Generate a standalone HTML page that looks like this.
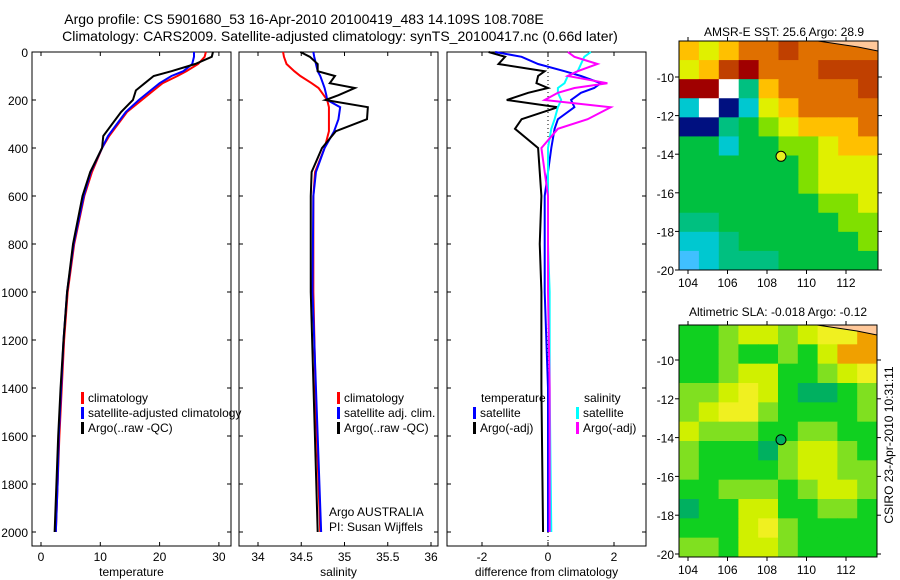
<!DOCTYPE html>
<html><head><meta charset="utf-8"><style>
body{margin:0;background:#fff;}
svg{display:block;font-family:"Liberation Sans",sans-serif;}
</style></head><body>
<svg id="c" width="900" height="580" xmlns="http://www.w3.org/2000/svg">
<text x="304" y="24" font-size="14" text-anchor="middle">Argo profile: CS 5901680_53 16-Apr-2010 20100419_483 14.109S 108.708E</text>
<text x="340" y="41" font-size="14" text-anchor="middle">Climatology: CARS2009. Satellite-adjusted climatology: synTS_20100417.nc (0.66d later)</text>
<g id="p1"></g>
<g id="p2"></g>
<g id="p3"></g>
<g id="m1"></g>
<g id="m2"></g>
<text x="784" y="36" font-size="12" text-anchor="middle">AMSR-E SST: 25.6 Argo: 28.9</text>
<text x="778" y="316" font-size="12" text-anchor="middle">Altimetric SLA: -0.018 Argo: -0.12</text>
<text transform="translate(893,445) rotate(-90)" font-size="12" text-anchor="middle">CSIRO 23-Apr-2010 10:31:11</text>
</svg>
<script>
const depths=[0,20,50,80,100,130,160,200,250,300,350,400,500,600,800,1000,1200,1400,1600,1800,2000];
const tClim=[27.8,27.6,26.5,24.5,23,20.5,19,17,14.5,13,11.5,10.3,8.6,7.3,5.6,4.5,3.9,3.5,3.1,2.8,2.5];
const tSat=[25.8,25.8,25.5,24,22,20,18.5,16.5,14.3,12.8,11.3,10.3,8.4,7.2,5.5,4.4,3.8,3.4,3.0,2.8,2.5];
const tArgo=[29,28.8,26,22,19,17.5,16,15.5,13.5,12,10.5,10.3,8.3,7,5.4,4.4,3.8,3.3,2.9,2.6,2.3];
const sDepths=[0,20,50,80,100,130,150,180,200,230,280,330,400,500,600,1000,1500,2000];
const sClim=[34.29,34.3,34.33,34.42,34.49,34.62,34.7,34.76,34.8,34.82,34.82,34.82,34.77,34.66,34.64,34.64,34.67,34.72];
const sSat=[34.64,34.65,34.67,34.69,34.72,34.75,34.77,34.79,34.8,34.95,34.93,34.88,34.77,34.67,34.64,34.63,34.68,34.73];
const sArgo=[34.49,34.6,34.69,34.69,34.89,34.83,35.12,34.93,34.78,35.27,35.26,34.9,34.74,34.62,34.61,34.61,34.65,34.69];
const dDepths=[0,20,50,80,100,130,150,170,200,230,280,320,400,500,600,800,1000,1400,2000];
const dTArgo=[-1.8,-1.3,-1.5,-0.1,-0.3,-0.35,0,-0.6,-1.25,0.3,-0.8,-1.0,-0.3,-0.25,-0.2,-0.25,-0.2,-0.2,-0.15];
const dTSat=[-1.6,-0.8,-0.3,0.5,1.0,1.6,1.4,1.0,0.7,0.8,0.3,0.2,0.1,0,-0.1,-0.1,-0.1,0,0];
const dSSat=[1.3,1.1,1.0,0.9,0.6,0.5,0.3,0.3,0.4,0.3,0.2,0.1,0.0,0,0,0,0.05,0.05,0.1];
const dSArgo=[0.6,0.8,1.5,0.9,0.6,1.8,0.8,0.3,-0.1,1.9,1.2,0.3,-0.2,-0.1,0,0,0,0.05,0.05];
const depthTicks=[0,200,400,600,800,1000,1200,1400,1600,1800,2000];
const tTicks=[0,10,20,30];
const sTicks=[34,34.5,35,35.5,36];
const dTicks=[-2,0,2];
const sstGrid=[
[7,6,7,8,8,9,8,8,8,8],[6,7,9,10,8,8,8,9,9,9],[10,10,-1,3,7,8,8,8,8,9],[2,-1,1,2,6,7,8,8,8,8],
[1,1,3,4,5,6,7,7,7,8],[4,4,2,4,4,5,5,6,7,7],[4,4,4,4,4,4,5,6,6,6],[4,4,4,4,4,4,5,6,6,6],
[4,4,4,4,4,4,4,5,5,6],[3,3,4,4,4,4,4,4,5,5],[2,2,3,4,4,4,4,4,4,5],[0,2,3,3,3,4,4,4,4,4]];
const slaGrid=[
[4,4,5,6,6,5,6,7,7,8],[4,4,5,4,4,5,4,6,8,8],[4,4,5,6,6,4,4,5,6,7],[5,5,6,7,6,4,3,3,4,5],
[5,6,7,7,5,4,4,4,4,5],[6,5,5,5,4,4,5,5,4,4],[5,4,4,4,3,5,6,6,5,4],[5,4,4,4,4,5,6,6,5,5],
[4,4,5,5,5,4,5,6,6,5],[3,4,4,6,6,4,4,5,5,4],[4,4,4,6,7,5,4,4,4,4],[5,5,4,6,6,5,4,4,4,4]];
const latTicks=[-10,-12,-14,-16,-18,-20];
const lonTicks=[104,106,108,110,112];
const NS='http://www.w3.org/2000/svg';
function mk(p,t,a){const e=document.createElementNS(NS,t);for(const k in a)e.setAttribute(k,a[k]);p.appendChild(e);return e;}
const Y=d=>52+d*0.24;
function panel(g,x0,x1,xs,ticks,label,leftLabels){
  const r=mk(g,'rect',{x:x0,y:52,width:x1-x0,height:494,fill:'none',stroke:'#000'});
  
  depthTicks.forEach(d=>{mk(g,'line',{x1:x0,x2:x0+4,y1:Y(d),y2:Y(d),stroke:'#000'});mk(g,'line',{x1:x1,x2:x1-4,y1:Y(d),y2:Y(d),stroke:'#000'});
    if(leftLabels){const t=mk(g,'text',{x:x0-4,y:Y(d)+5,'font-size':12,'text-anchor':'end'});t.textContent=d;
    }});
  ticks.forEach(v=>{const x=xs(v);mk(g,'line',{x1:x,x2:x,y1:546,y2:542,stroke:'#000'});mk(g,'line',{x1:x,x2:x,y1:52,y2:56,stroke:'#000'});
    const t=mk(g,'text',{x:x,y:561,'font-size':12,'text-anchor':'middle'});t.textContent=v;
    });
  const t=mk(g,'text',{x:(x0+x1)/2,y:576,'font-size':12,'text-anchor':'middle'});t.textContent=label;
  
}
function line(g,ds,vs,xs,col,name,w){
  const p=mk(g,'polyline',{points:ds.map((d,i)=>xs(vs[i])+','+Y(d)).join(' '),fill:'none',stroke:col,'stroke-width':w||2});
  
}
function legend(g,x,y,items){
  items.forEach((it,i)=>{mk(g,'rect',{x:x,y:y+i*15-10,width:3,height:12,fill:it[0]});
    const t=mk(g,'text',{x:x+7,y:y+i*15,'font-size':12});t.textContent=it[1];
    });
}
const p1=document.getElementById('p1'),p2=document.getElementById('p2'),p3=document.getElementById('p3');
const xT=v=>41+5.93*v, xS=v=>258+86.5*(v-34), xD=v=>548+33*v;
panel(p1,32,231,xT,tTicks,'temperature',true);
line(p1,depths,tClim,xT,'#f00','temp-climatology-line');
line(p1,depths,tSat,xT,'#00f','temp-satellite-line');
line(p1,depths,tArgo,xT,'#000','temp-argo-line');
legend(p1,81,402,[['#f00','climatology'],['#00f','satellite-adjusted climatology'],['#000','Argo(..raw -QC)']]);
panel(p2,239,438,xS,sTicks,'salinity',false);
line(p2,sDepths,sClim,xS,'#f00','sal-climatology-line');
line(p2,sDepths,sSat,xS,'#00f','sal-satellite-line');
line(p2,sDepths,sArgo,xS,'#000','sal-argo-line');
legend(p2,337,402,[['#f00','climatology'],['#00f','satellite adj. clim.'],['#000','Argo(..raw -QC)']]);
const a1=mk(p2,'text',{x:329,y:516,'font-size':12});a1.textContent='Argo AUSTRALIA';

const a2=mk(p2,'text',{x:329,y:531,'font-size':12});a2.textContent='PI: Susan Wijffels';

panel(p3,447,646,xD,dTicks,'difference from climatology',false);
mk(p3,'line',{x1:xD(0),x2:xD(0),y1:52,y2:546,stroke:'#000','stroke-dasharray':'1,3'});
line(p3,dDepths,dTArgo,xD,'#000','temp-diff-argo-line');
line(p3,dDepths,dTSat,xD,'#00f','temp-diff-satellite-line');
line(p3,dDepths,dSSat,xD,'#0ff','sal-diff-satellite-line');
line(p3,dDepths,dSArgo,xD,'#f0f','sal-diff-argo-line');
const lt=mk(p3,'text',{x:481,y:402,'font-size':12});lt.textContent='temperature';
const ls=mk(p3,'text',{x:584,y:402,'font-size':12});ls.textContent='salinity';
legend(p3,473,417,[['#00f','satellite'],['#000','Argo(-adj)']]);
legend(p3,576,417,[['#0ff','satellite'],['#f0f','Argo(-adj)']]);
const sstCol=['#40c0ff','#001080','#00c8d0','#00c080','#00c040','#80e000','#e0f000','#ffc000','#e07000','#c04000','#a00000'];
const slaCol=['#00b060','#00b060','#00b060','#00b060','#10d020','#80e020','#d0f000','#f0f020','#f0a000'];
function map(g,x0,y0,w,h,grid,cols,lat10,latPx,dot,dotCol){
  const R=grid.length,C=grid[0].length,cw=w/C,ch=h/R;
  grid.forEach((row,r)=>row.forEach((v,c)=>{const e=mk(g,'rect',{x:x0+c*cw,y:y0+r*ch,width:cw+0.5,height:ch+0.5,fill:v<0?'#fff':cols[v]});
    }));
  mk(g,'path',{d:`M${x0+w-60},${y0} L${x0+w},${y0} L${x0+w},${y0+10} L${x0+w-20},${y0+6} Z`,fill:'#ffc89a',stroke:'#000'});
  mk(g,'rect',{x:x0,y:y0,width:w,height:h,fill:'none',stroke:'#000'});
  latTicks.forEach(l=>{const y=lat10+(-10-l)*latPx;mk(g,'line',{x1:x0+w,x2:x0+w+4,y1:y,y2:y,stroke:'#000'});mk(g,'line',{x1:x0,x2:x0-4,y1:y,y2:y,stroke:'#000'});
    const t=mk(g,'text',{x:x0-5,y:y+5,'font-size':12,'text-anchor':'end'});t.textContent=l;
    });
  lonTicks.forEach(l=>{const x=688+(l-104)*19.75;mk(g,'line',{x1:x,x2:x,y1:y0+h,y2:y0+h+4,stroke:'#000'});mk(g,'line',{x1:x,x2:x,y1:y0,y2:y0-4,stroke:'#000'});
    const t=mk(g,'text',{x:x,y:y0+h+17,'font-size':12,'text-anchor':'middle'});t.textContent=l;
    });
  const c=mk(g,'circle',{cx:688+(108.708-104)*19.75,cy:lat10+(14.109-10)*latPx,r:5,fill:dotCol,stroke:'#000'});
  
}
map(document.getElementById('m1'),679,41,199,229,sstGrid,sstCol,77,19.3,true,'#e8f020');
map(document.getElementById('m2'),679,325,198,232,slaGrid,slaCol,360,19.4,true,'#00b060');
</script>
</body></html>
